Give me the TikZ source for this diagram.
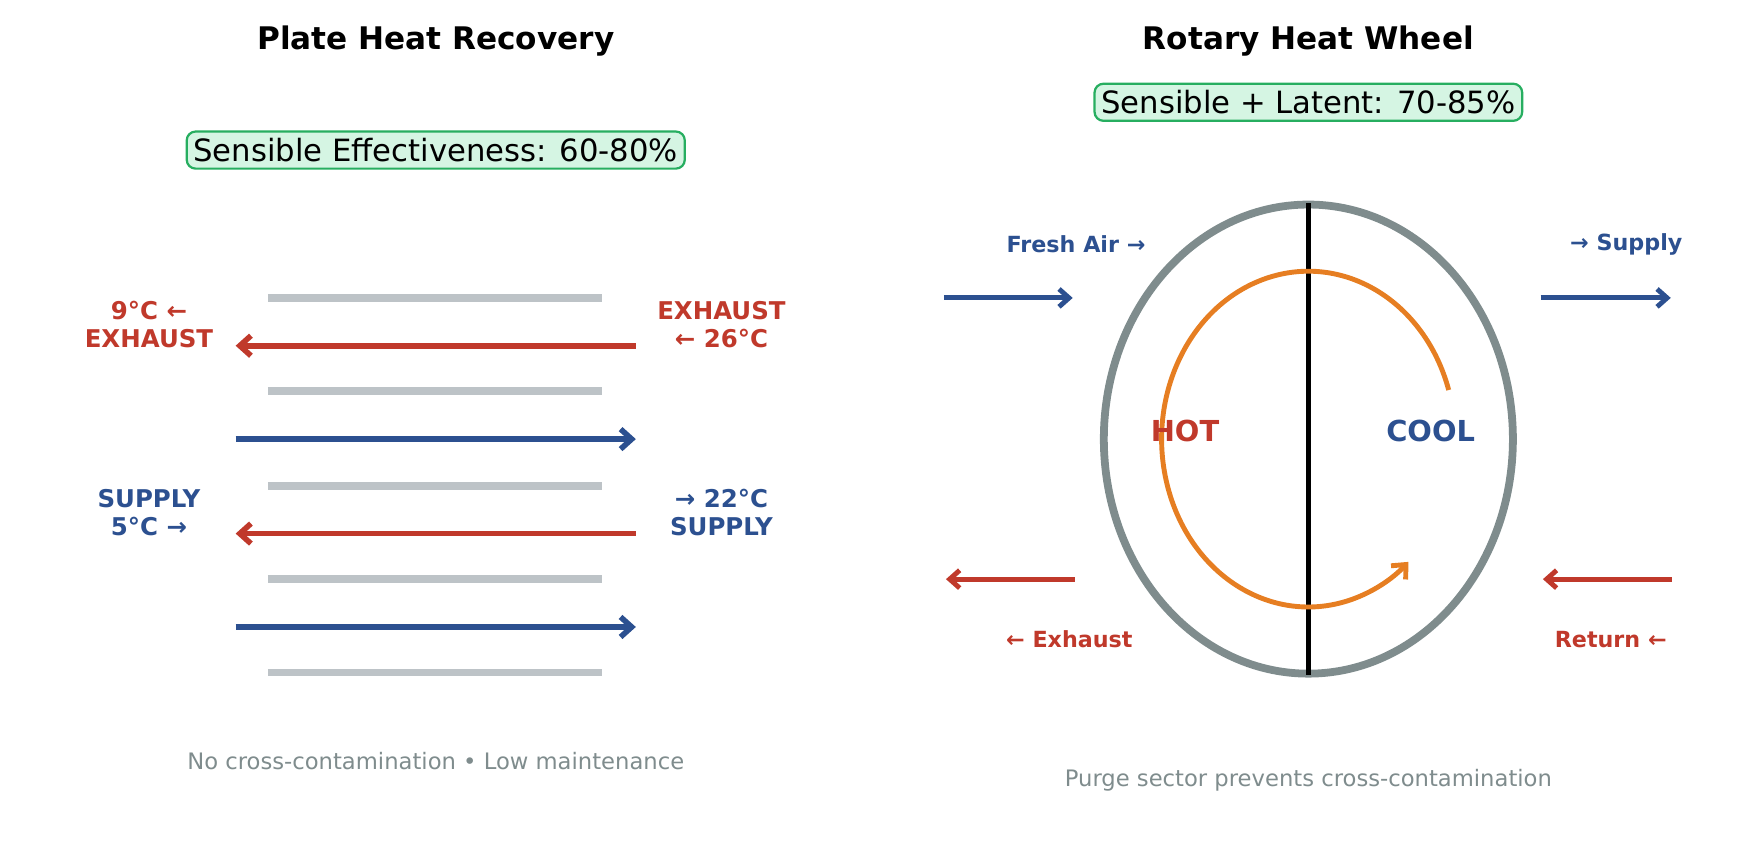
\documentclass[tikz,border=0pt]{standalone}
\usepackage{fontspec}
\setmainfont{DejaVu Sans}
\usetikzlibrary{arrows.meta}
\definecolor{cred}{HTML}{C0392B}
\definecolor{cblue}{HTML}{2C5090}
\definecolor{corange}{HTML}{E67E22}
\definecolor{cgray}{HTML}{7F8C8D}
\definecolor{cplate}{HTML}{BDC3C7}
\definecolor{cgfill}{HTML}{D5F5E3}
\definecolor{cgline}{HTML}{27AE60}
\begin{document}
\begin{tikzpicture}[x=0.5pt,y=-0.5pt,
  ttl/.style={font=\bfseries\fontsize{14}{16}\selectfont},
  effbox/.style={draw=cgline,fill=cgfill,line width=1pt,rounded corners=4pt,inner sep=3pt,font=\fontsize{13.8}{16}\selectfont},
  lbl/.style={font=\bfseries\fontsize{11}{12.5}\selectfont,align=center},
  slbl/.style={font=\bfseries\fontsize{10}{12}\selectfont},
  foot/.style={font=\fontsize{10.2}{12}\selectfont,text=cgray},
  plate/.style={draw=cplate,line width=3.5pt},
  flow/.style={line width=2.5pt,-{Straight Barb[length=5pt,width=9pt]}},
  sflow/.style={line width=2.2pt,-{Straight Barb[length=4.5pt,width=8pt]}}]
\useasboundingbox (0,0) rectangle (1568,757);
\node[ttl] (t1) at (392,37) {Plate Heat Recovery};
\node[ttl] (t2) at (1177,37) {Rotary Heat Wheel};
\node[effbox] (b1) at (392,135) {Sensible Effectiveness: 60-80\%};
\node[effbox] (b2) at (1177,92) {Sensible + Latent: 70-85\%};
\foreach \y in {268,352,437,521,605} \draw[plate] (241,\y) -- (542,\y);
\coordinate (r1a) at (572,311); \coordinate (r1b) at (212,311);
\coordinate (r2a) at (572,480); \coordinate (r2b) at (212,480);
\coordinate (u1a) at (212,395); \coordinate (u1b) at (572,395);
\coordinate (u2a) at (212,564); \coordinate (u2b) at (572,564);
\draw[flow,cred] (r1a) -- (r1b);
\draw[flow,cred] (r2a) -- (r2b);
\draw[flow,cblue] (u1a) -- (u1b);
\draw[flow,cblue] (u2a) -- (u2b);
\node[lbl,text=cred] (l1) at (134,292) {9°C ←\\EXHAUST};
\node[lbl,text=cred] (l2) at (649,292) {EXHAUST\\← 26°C};
\node[lbl,text=cblue] (l3) at (134,461) {SUPPLY\\5°C →};
\node[lbl,text=cblue] (l4) at (649,461) {→ 22°C\\SUPPLY};
\node[foot] (f1) at (392,685) {No cross-contamination • Low maintenance};
% wheel
\draw[cgray,line width=3.5pt] (1177,395) ellipse[x radius=92pt,y radius=105.5pt];
\coordinate (vt) at (1177,183); \coordinate (vb) at (1177,607);
\draw[black,line width=2pt] (vt) -- (vb);
\draw[corange,line width=2.2pt,-{Straight Barb[length=5pt,width=9pt]}] ([shift={(17:66pt and 75.5pt)}]1177,395) arc[start angle=17,end angle=313,x radius=66pt,y radius=75.5pt];
\node[font=\bfseries\fontsize{13}{15}\selectfont,text=cred] (hot) at (1066,388) {HOT};
\node[font=\bfseries\fontsize{13}{15}\selectfont,text=cblue] (cool) at (1287,388) {COOL};
\coordinate (a1) at (849,268); \coordinate (a2) at (965,268);
\coordinate (a3) at (1386,268); \coordinate (a4) at (1503,268);
\coordinate (a5) at (967,521); \coordinate (a6) at (851,521);
\coordinate (a7) at (1504,521); \coordinate (a8) at (1388,521);
\draw[sflow,cblue] (a1) -- (a2);
\draw[sflow,cblue] (a3) -- (a4);
\draw[sflow,cred] (a5) -- (a6);
\draw[sflow,cred] (a7) -- (a8);
\node[slbl,text=cblue] (s1) at (968,220) {Fresh Air →};
\node[slbl,text=cblue] (s2) at (1463,220) {→ Supply};
\node[slbl,text=cred] (s3) at (962,575) {← Exhaust};
\node[slbl,text=cred] (s4) at (1449,575) {Return ←};
\node[foot] (f2) at (1177,702) {Purge sector prevents cross-contamination};
\end{tikzpicture}
\end{document}
